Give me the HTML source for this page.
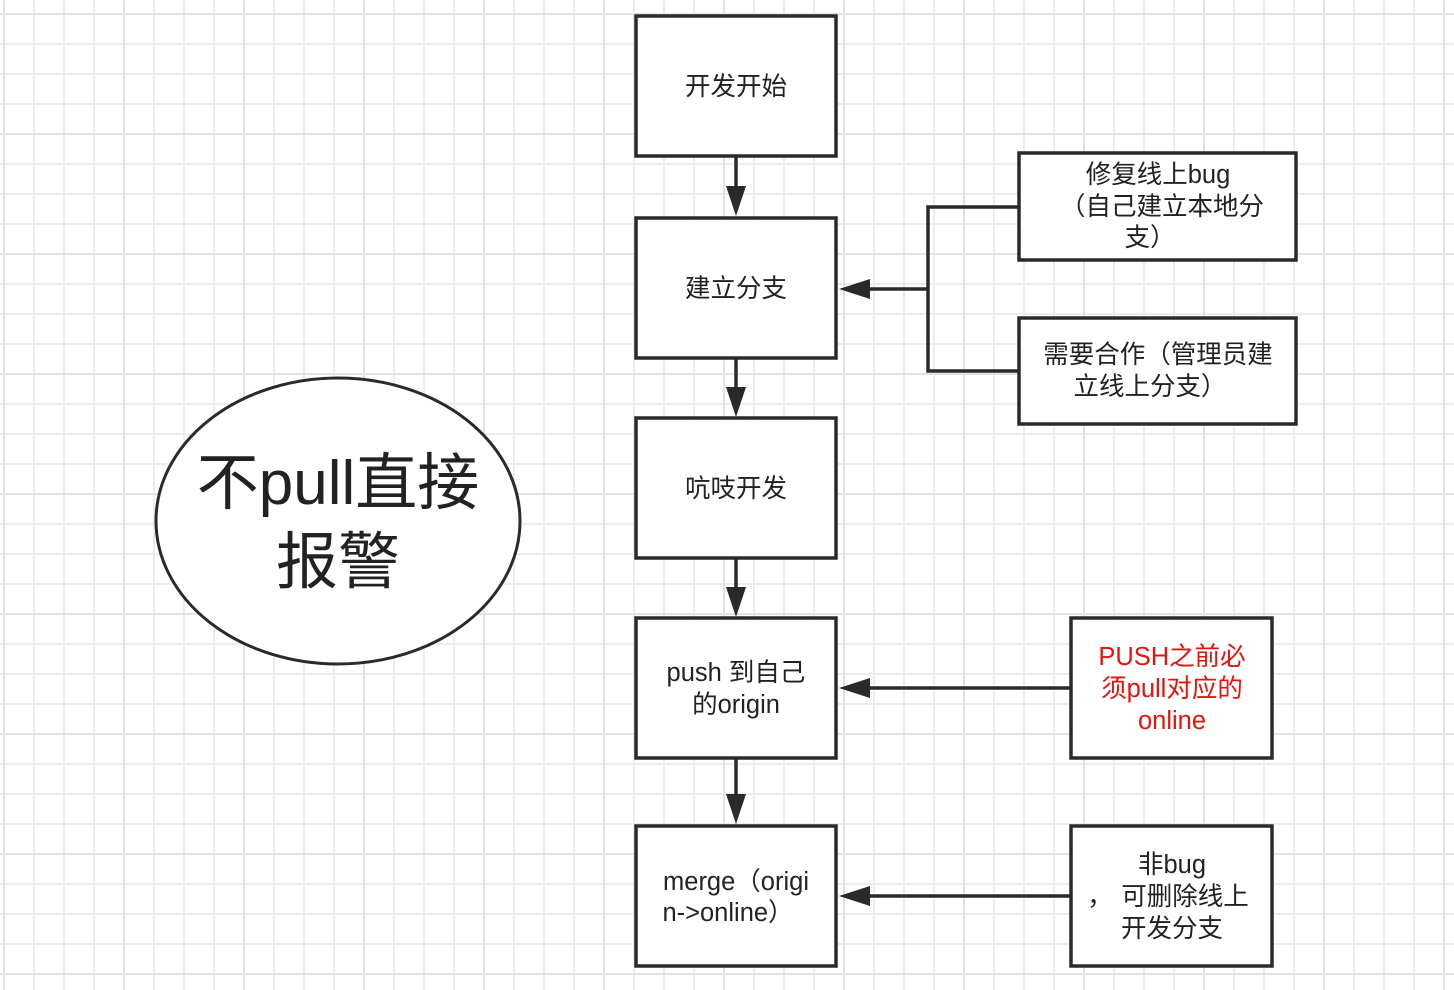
<!DOCTYPE html>
<html><head><meta charset="utf-8"><style>
html,body{margin:0;padding:0;background:#fff}
svg{display:block}
text{font-family:"Liberation Sans","Noto Sans CJK SC",sans-serif;fill:#222;text-anchor:middle}
</style></head><body>
<svg width="1454" height="990" viewBox="0 0 1454 990" xmlns="http://www.w3.org/2000/svg">
<defs>
<pattern id="g" x="3" y="13" width="30" height="30" patternUnits="userSpaceOnUse">
<path d="M1 0V30M0 1H30" stroke="#ececec" stroke-width="2" fill="none"/>
</pattern>
<pattern id="G" x="3" y="13" width="120" height="120" patternUnits="userSpaceOnUse">
<path d="M1 0V120M0 1H120" stroke="#e2e2e2" stroke-width="2" fill="none"/>
</pattern>
</defs>
<rect width="1454" height="990" fill="url(#g)"/>
<rect width="1454" height="990" fill="url(#G)"/>
<g fill="#fff" stroke="#2a2a2a" stroke-width="3.5">
<rect x="636" y="16" width="200" height="140"/>
<rect x="636" y="218" width="200" height="140"/>
<rect x="636" y="418" width="200" height="140"/>
<rect x="636" y="618" width="200" height="140"/>
<rect x="636" y="826" width="200" height="140"/>
<rect x="1019" y="153" width="277" height="107"/>
<rect x="1019" y="318" width="277" height="106"/>
<rect x="1071" y="618" width="201" height="140"/>
<rect x="1071" y="826" width="201" height="140"/>
<ellipse cx="338" cy="521" rx="182" ry="143" stroke-width="3"/>
</g>
<g stroke="#2a2a2a" stroke-width="3.5" fill="none">
<path d="M736 156V192M736 358V393M736 558V593M736 758V800"/>
<path d="M1019 207H928V371H1019M928 289H866"/>
<path d="M1071 688H866M1071 896H866"/>
</g>
<g fill="#2a2a2a">
<path d="M726 186L746 186L736 216Z"/>
<path d="M726 387L746 387L736 417Z"/>
<path d="M726 587L746 587L736 617Z"/>
<path d="M726 794L746 794L736 824Z"/>
<path d="M870 279L870 299L839 289Z"/>
<path d="M870 678L870 698L839 688Z"/>
<path d="M870 886L870 906L839 896Z"/>
</g>
<g font-size="25.5">
<text x="736" y="95">开发开始</text>
<text x="736" y="297">建立分支</text>
<text x="736" y="497">吭吱开发</text>
<text x="736" y="681">push 到自己</text>
<text x="736" y="713">的origin</text>
<text x="736" y="890">merge（origi</text>
<text x="728" y="921">n-&gt;online）</text>
<text x="1158" y="183">修复线上bug</text>
<text x="1162" y="215">（自己建立本地分</text>
<text x="1150" y="246">支）</text>
<text x="1158" y="363">需要合作（管理员建</text>
<text x="1150" y="395">立线上分支）</text>
<text x="1172" y="665" style="fill:#e8120c">PUSH之前必</text>
<text x="1172" y="697" style="fill:#e8120c">须pull对应的</text>
<text x="1172" y="729" style="fill:#e8120c">online</text>
<text x="1172" y="873">非bug</text>
<text x="1185" y="905">可删除线上</text>
<text x="1100" y="905">，</text>
<text x="1172" y="937">开发分支</text>
</g>
<g font-size="62">
<text x="338" y="504">不pull直接</text>
<text x="338" y="583">报警</text>
</g>
</svg>
</body></html>
